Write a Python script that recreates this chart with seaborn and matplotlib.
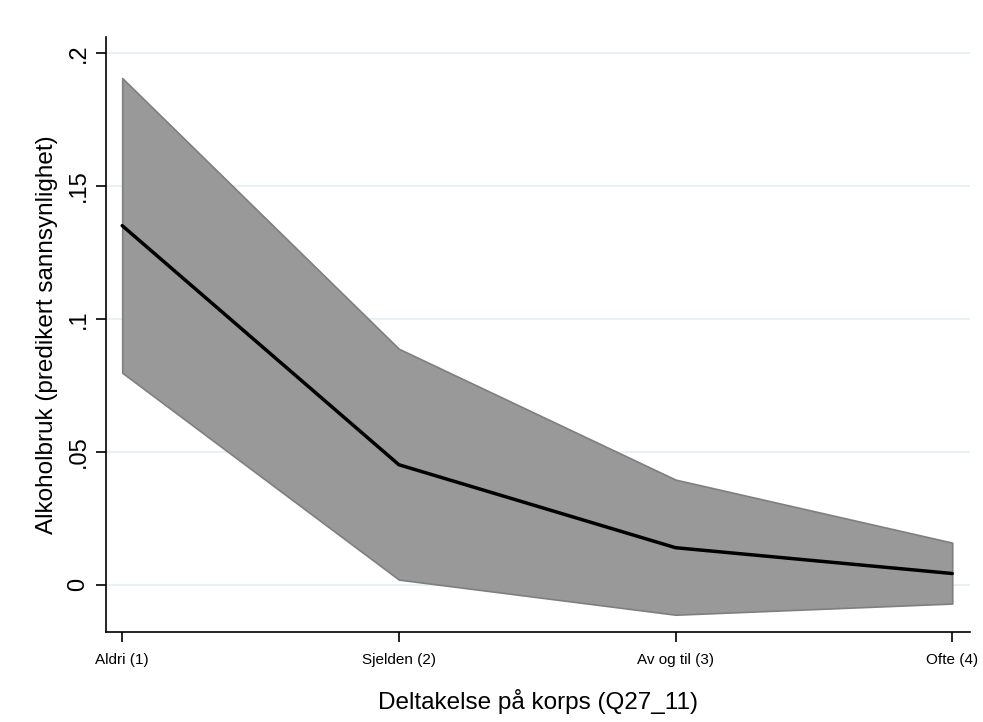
import pandas as pd
import matplotlib
matplotlib.use("Agg")
import matplotlib.pyplot as plt
import seaborn as sns

# Predicted probabilities with confidence band
levels = [1, 2, 3, 4]
level_labels = ["Aldri (1)", "Sjelden (2)", "Av og til (3)", "Ofte (4)"]
predicted = [0.135, 0.0451, 0.0139, 0.0042]
ci_upper = [0.1905, 0.0887, 0.0395, 0.0158]
ci_lower = [0.0797, 0.0019, -0.0113, -0.0071]

df = pd.DataFrame({"level": levels, "pred": predicted,
                   "lo": ci_lower, "hi": ci_upper})

sns.set_style("white")
plt.rcParams["font.family"] = ["Liberation Sans", "DejaVu Sans"]
plt.rcParams["text.color"] = "black"
plt.rcParams["axes.labelcolor"] = "black"
plt.rcParams["xtick.color"] = "black"
plt.rcParams["ytick.color"] = "black"

fig = plt.figure(figsize=(9.83, 7.22), dpi=100)
ax = fig.add_axes([0.108, 0.125, 0.879, 0.824])

# grid lines
for t in [0, 0.05, 0.1, 0.15, 0.2]:
    ax.axhline(t, color="#e6f0f2", lw=1.3, zorder=0)

ax.fill_between(df["level"], df["lo"], df["hi"], color="#999999",
                edgecolor="#7f7f7f", lw=1.2, zorder=1)
sns.lineplot(data=df, x="level", y="pred", color="black", lw=2.5,
             ax=ax, zorder=2)

ax.set_xlim(0.942, 4.065)
ax.set_ylim(-0.0177, 0.206)

ax.set_xticks(levels)
ax.set_xticklabels(level_labels, fontsize=11)
ax.set_yticks([0, 0.05, 0.1, 0.15, 0.2])
ax.set_yticklabels(["0", ".05", ".1", ".15", ".2"], fontsize=17,
                   rotation=90, va="center")

ax.tick_params(axis="both", direction="out", length=7, width=1.2,
               color="black", bottom=True, left=True)
ax.tick_params(axis="x", pad=8)
ax.tick_params(axis="y", pad=5)

for s in ["top", "right"]:
    ax.spines[s].set_visible(False)
for s in ["left", "bottom"]:
    ax.spines[s].set_color("black")
    ax.spines[s].set_linewidth(1.2)

ax.set_xlabel("Deltakelse på korps (Q27_11)", fontsize=17.5, labelpad=16)
ax.set_ylabel("Alkoholbruk (predikert sannsynlighet)", fontsize=17.5,
              labelpad=7)

fig.savefig("out.png", dpi=100, facecolor="white")
